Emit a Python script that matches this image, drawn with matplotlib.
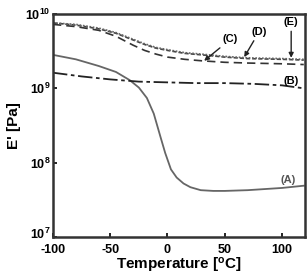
import numpy as np
import matplotlib
matplotlib.use('Agg')
import matplotlib.pyplot as plt
import matplotlib.transforms as mtransforms

plt.rcParams['font.family'] = 'Liberation Sans'
plt.rcParams['font.weight'] = 'bold'
plt.rcParams['mathtext.fontset'] = 'custom'
plt.rcParams['mathtext.rm'] = 'Liberation Sans:bold'
plt.rcParams['mathtext.bf'] = 'Liberation Sans:bold'
plt.rcParams['mathtext.default'] = 'bf'

# temperature [°C] and log10(E')
temp_a = [-100, -80, -60, -45, -33, -25, -18, -12, -6, -2, 3, 8, 14, 20, 29, 40, 50, 70, 100, 119]
log_a = [9.45, 9.39, 9.30, 9.22, 9.11, 9.01, 8.87, 8.66, 8.34, 8.13, 7.91, 7.80, 7.72, 7.67, 7.63, 7.62, 7.62, 7.63, 7.66, 7.69]

temp_b = [-100, -75, -50, -25, 0, 25, 50, 75, 100, 119]
log_b = [9.21, 9.16, 9.12, 9.09, 9.08, 9.07, 9.07, 9.06, 9.04, 9.00]

temp_c = [-100, -80, -60, -45, -30, -20, -10, 0, 15, 30, 50, 70, 100, 119]
log_c = [9.86, 9.83, 9.78, 9.70, 9.58, 9.51, 9.46, 9.42, 9.39, 9.37, 9.35, 9.34, 9.33, 9.32]

temp_d = [-100, -80, -60, -45, -30, -20, -10, 0, 15, 30, 50, 70, 100, 119]
log_d = [9.88, 9.85, 9.80, 9.74, 9.65, 9.59, 9.54, 9.51, 9.47, 9.45, 9.42, 9.40, 9.39, 9.38]

temp_e = [-100, -80, -60, -45, -30, -20, -10, 0, 15, 30, 50, 70, 100, 119]
log_e = [9.88, 9.86, 9.81, 9.75, 9.66, 9.60, 9.55, 9.52, 9.48, 9.46, 9.43, 9.41, 9.40, 9.39]

x_ticks = [-100, -50, 0, 50, 100]
y_ticks = [1e7, 1e8, 1e9, 1e10]
y_tick_labels = [r'$10^{7}$', r'$10^{8}$', r'$10^{9}$', r'$10^{10}$']

fig = plt.figure(figsize=(3.08, 2.74), dpi=100)
ax = fig.add_axes([0.172, 0.135, 0.818, 0.814])

ax.plot(temp_a, 10 ** np.array(log_a), color='#666666', lw=1.3, ls='-')
ax.plot(temp_b, 10 ** np.array(log_b), color='#222222', lw=1.3, ls=(0, (8, 2, 2, 2)))
ax.plot(temp_c, 10 ** np.array(log_c), color='#333333', lw=1.2, ls=(0, (5, 3)))
ax.plot(temp_d, 10 ** np.array(log_d), color='#444444', lw=1.2, ls=(0, (2.5, 1.2)))
ax.plot(temp_e, 10 ** np.array(log_e), color='#666666', lw=1.2, ls=(0, (1, 1)))

ax.set_yscale('log')
ax.set_xlim(-100, 120)
ax.set_ylim(1e7, 1e10)
ax.set_xticks(x_ticks)
ax.set_xticklabels([str(v) for v in x_ticks], fontweight='bold')
ax.set_yticks(y_ticks)
ax.set_yticklabels(y_tick_labels)
ax.minorticks_off()
ax.tick_params(direction='in', length=3, width=1.2, labelsize=9)
ax.tick_params(axis='x', pad=5)
ax.tick_params(axis='y', pad=2)
for s in ax.spines.values():
    s.set_linewidth(1.8)
    s.set_color('#333333')

# lift the lowest y label a little so it clears "-100"
lab0 = ax.get_yticklabels()[0]
lab0.set_transform(lab0.get_transform() + mtransforms.ScaledTranslation(0, 3 / 72, fig.dpi_scale_trans))

ax.set_xlabel('Temperature [$\\mathregular{^o}$C]', fontsize=11, fontweight='bold', labelpad=0)
ax.set_ylabel("E' [Pa]", fontsize=11, fontweight='bold', labelpad=3)

ax.text(105, 10 ** 7.72, '(A)', fontsize=8, fontweight='bold', color='#555555', ha='center')
ax.text(108, 10 ** 9.06, '(B)', fontsize=8, fontweight='bold', ha='center')
arrow = dict(arrowstyle='-|>', color='#222222', lw=1, mutation_scale=7, shrinkA=1, shrinkB=0)
ax.annotate('(C)', xy=(32, 10 ** 9.37), xytext=(55, 10 ** 9.62), fontsize=8, fontweight='bold',
            ha='center', arrowprops=arrow)
ax.annotate('(D)', xy=(67, 10 ** 9.42), xytext=(80, 10 ** 9.72), fontsize=8, fontweight='bold',
            ha='center', arrowprops=arrow)
ax.annotate('(E)', xy=(108, 10 ** 9.41), xytext=(108, 10 ** 9.85), fontsize=8, fontweight='bold',
            ha='center', arrowprops=arrow)

fig.savefig('out.png', dpi=100)
